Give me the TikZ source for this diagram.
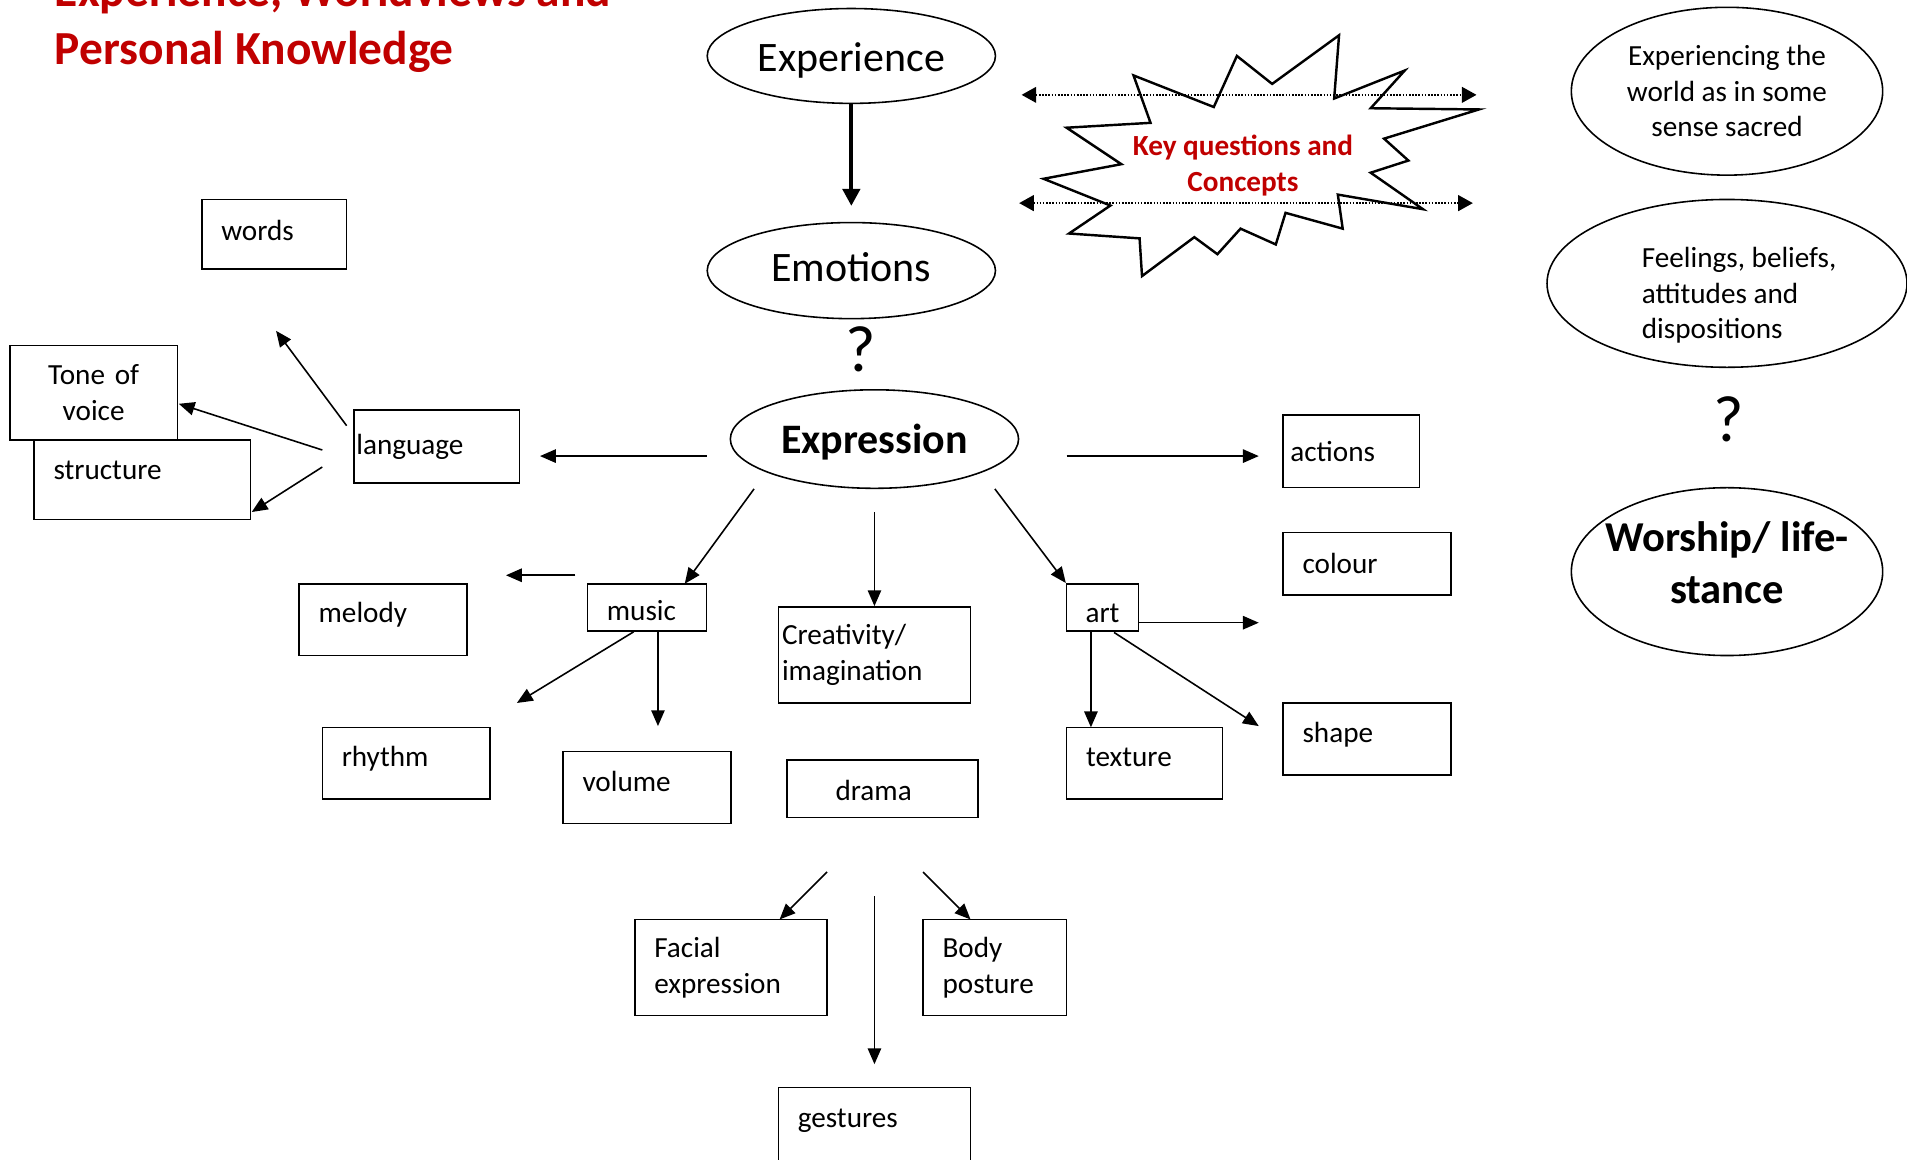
\documentclass[tikz,border=0pt]{standalone}
\usepackage{fontspec}
\setmainfont{Carlito}
\usetikzlibrary{arrows.meta,shapes.geometric}
\definecolor{kqred}{HTML}{C00000}

\begin{document}
\begin{tikzpicture}[x=1pt,y=-1pt,
    bx/.style n args={3}{draw,line width=1.3pt,rectangle,inner ysep=0pt,inner xsep=#3pt,
        minimum width=#1pt,minimum height=#2pt,text width=#1pt-2*#3pt,align=left,
        font=\fontsize{24}{29.3}\selectfont},
    bl/.style 2 args={text height=#1pt,text depth=#2pt},
    ov/.style={draw,line width=1.3pt,ellipse,inner sep=0pt,align=center},
    arr/.style={line width=1.3pt,-{Triangle[length=13pt,width=11pt]}},
    thk/.style={line width=3.5pt,-{Triangle[length=14pt,width=14pt]},shorten >=13pt},
    dots/.style={line width=1.3pt,dash pattern=on 1.3pt off 1.3pt,
        {Triangle[length=12pt,width=13pt]}-{Triangle[length=12pt,width=13pt]}}
    ]
    \useasboundingbox (0,0) rectangle (1568,953);

    \node[font=\fontsize{39}{48}\selectfont\bfseries,text=kqred,align=left,anchor=south west,inner sep=0pt]
        (title) at (45,60) {Experience, Worldviews and\\Personal Knowledge};

    \node[ov,minimum width=237pt,minimum height=78pt,bl={26}{0},font=\fontsize{34.5}{42}\selectfont] (exp) at (700,46) {Experience};
    \node[ov,minimum width=237pt,minimum height=79pt,bl={18.2}{0},font=\fontsize{34.5}{42}\selectfont] (emo) at (700,222.5) {Emotions};
    \node[ov,minimum width=237pt,minimum height=81pt,bl={23.4}{0},font=\fontsize{34.5}{42}\selectfont\bfseries] (expr) at (719,361) {Expression};
    \node[font=\fontsize{54}{60}\selectfont] (q1) at (708,287) {?};

    \draw[line width=2pt] (858,147) -- (922,135) -- (877,105) -- (946,101) -- (932,62) -- (998,88)
        -- (1017,46) -- (1046,69) -- (1101,29) -- (1097,81) -- (1155,58) -- (1127,89) -- (1216,90)
        -- (1138,114) -- (1158,132) -- (1127,142) -- (1170,172) -- (1100,160) -- (1104,188)
        -- (1057,175) -- (1049,201) -- (1020,188) -- (1001,209) -- (982,195) -- (939,227)
        -- (937,196) -- (879,192) -- (913,169) -- cycle;
    \node[font=\fontsize{24}{29.3}\selectfont\bfseries,text=kqred,align=center] (kq) at (1022,136) {Key questions and\\Concepts};

    \node[ov,minimum width=256pt,minimum height=138pt,font=\fontsize{24}{29.3}\selectfont] (sacred) at (1420,75)
        {Experiencing the\\world as in some\\sense sacred};
    \node[ov,minimum width=296pt,minimum height=138pt,
        label={[xshift=10pt,yshift=-10pt,align=left,font=\fontsize{24}{29.3}\selectfont]center:{Feelings, beliefs,\\attitudes and\\dispositions}}]
        (feel) at (1420,233) {};
    \node[font=\fontsize{54}{60}\selectfont] (q2) at (1421,345) {?};
    \node[ov,minimum width=256pt,minimum height=138pt,inner xsep=-10pt,text depth=15pt,
        font=\fontsize{35}{43}\selectfont\bfseries] (worship) at (1420,470) {Worship/ life-\\stance};

    \node[bx={119}{57}{16},bl={17}{7}] (words) at (225.5,192.5) {words};
    \node[bx={138}{78}{16},align=center] (tone) at (77,323) {Tone of\\voice};
    \node[bx={178}{65}{16},bl={12}{12}] (struct) at (117,394.5) {structure};
    \node[bx={136}{60}{2},bl={18.6}{5.4}] (lang) at (359,367) {language};
    \node[bx={138}{59}{16},bl={14}{10}] (melody) at (315,509.5) {melody};
    \node[bx={98}{39}{16},bl={23}{1}] (music) at (532,499.5) {music};
    \node[bx={138}{59}{16},bl={15}{9}] (rhythm) at (334,627.5) {rhythm};
    \node[bx={138}{59}{16},bl={15}{9}] (volume) at (532,647.5) {volume};
    \node[bx={158}{79}{3}] (crea) at (719,538.5) {Creativity/\\imagination};
    \node[bx={157}{47}{40},bl={22}{2}] (drama) at (725.5,648.5) {drama};
    \node[bx={158}{79}{16}] (facial) at (601,795.5) {Facial\\expression};
    \node[bx={118}{79}{16}] (body) at (818,795.5) {Body\\posture};
    \node[bx={158}{62}{16},bl={14}{10}] (gest) at (719,925) {gestures};
    \node[bx={59}{39}{4},align=center,bl={24}{0}] (art) at (906.5,499.5) {art};
    \node[bx={128}{59}{16},bl={15}{9}] (texture) at (941,627.5) {texture};
    \node[bx={112}{60}{6},bl={20.6}{3.4}] (actions) at (1111,371) {actions};
    \node[bx={138}{51}{16},bl={20}{4}] (colour) at (1124,463.5) {colour};
    \node[bx={138}{59}{16},bl={15}{9}] (shape) at (1124,607.5) {shape};

    \coordinate (kq-ul) at (840,78);
    \coordinate (kq-ur) at (1214,78);
    \coordinate (kq-ll) at (838,167);
    \coordinate (kq-lr) at (1211,167);
    \coordinate (expr-w) at (581,375);
    \coordinate (lang-e) at (444,375);
    \coordinate (expr-e) at (877,375);
    \coordinate (actions-w) at (1035,375);
    \coordinate (expr-sw) at (620,402);
    \coordinate (music-n) at (563,480);
    \coordinate (expr-s) at (719,421);
    \coordinate (expr-se) at (818,402);
    \coordinate (lang-nw) at (285,350);
    \coordinate (words-s) at (227,272);
    \coordinate (lang-w) at (265,370);
    \coordinate (tone-e) at (147,332);
    \coordinate (lang-sw) at (265,384);
    \coordinate (struct-e) at (207,421);
    \coordinate (music-w) at (473,473);
    \coordinate (melody-e) at (416,473);
    \coordinate (music-sw) at (521,519.5);
    \coordinate (rhythm-ne) at (425,578);
    \coordinate (music-s) at (541,519.5);
    \coordinate (volume-n) at (541,597);
    \coordinate (art-e) at (936.5,512);
    \coordinate (colour-sw) at (1035,512);
    \coordinate (art-s) at (897,519.5);
    \coordinate (texture-n) at (897,598);
    \coordinate (art-se) at (916,520);
    \coordinate (shape-w) at (1035,597);
    \coordinate (drama-sw) at (680,717);
    \coordinate (facial-n) at (641,756);
    \coordinate (drama-se) at (759,717);
    \coordinate (body-n) at (798,756);
    \coordinate (drama-s) at (719,737);
    \coordinate (gest-n) at (719,875);

    \draw[thk] (exp) -- (emo);
    \draw[dots] (kq-ul) -- (kq-ur);
    \draw[dots] (kq-ll) -- (kq-lr);
    \draw[arr] (expr-w) -- (lang-e);
    \draw[arr] (expr-e) -- (actions-w);
    \draw[arr] (expr-sw) -- (music-n);
    \draw[arr] (expr-s) -- (crea.north);
    \draw[arr] (expr-se) -- (art.north west);
    \draw[arr] (lang-nw) -- (words-s);
    \draw[arr] (lang-w) -- (tone-e);
    \draw[arr] (lang-sw) -- (struct-e);
    \draw[arr] (music-w) -- (melody-e);
    \draw[arr] (music-sw) -- (rhythm-ne);
    \draw[arr] (music-s) -- (volume-n);
    \draw[arr] (art-e) -- (colour-sw);
    \draw[arr] (art-s) -- (texture-n);
    \draw[arr] (art-se) -- (shape-w);
    \draw[arr] (drama-sw) -- (facial-n);
    \draw[arr] (drama-se) -- (body-n);
    \draw[arr] (drama-s) -- (gest-n);
\end{tikzpicture}
\end{document}
